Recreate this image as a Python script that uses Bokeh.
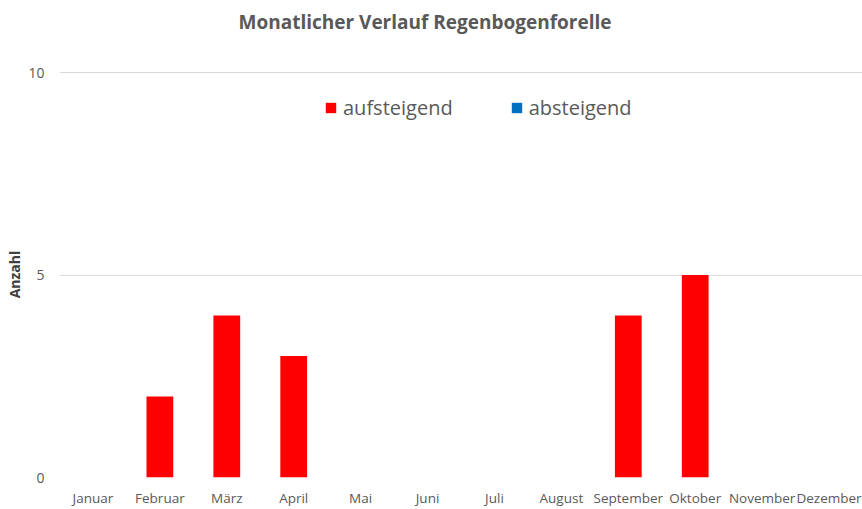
from bokeh.plotting import figure
from bokeh.models import Range1d, FixedTicker, ColumnDataSource, Legend, LegendItem, Title
from bokeh.embed import file_html
from bokeh.resources import INLINE

months = ["Januar", "Februar", "März", "April", "Mai", "Juni", "Juli",
          "August", "September", "Oktober", "November", "Dezember"]
aufsteigend = [0, 2, 4, 3, 0, 0, 0, 0, 4, 5, 0, 0]
absteigend = [0, 0, 0, 0, 0, 0, 0, 0, 0, 0, 0, 0]
y_ticks = [0, 5, 10]

FONT = "Open Sans"
GRAY = "#595959"

xs = [i + 0.5 for i in range(len(months))]
src = ColumnDataSource(dict(x=xs, auf=aufsteigend, ab=absteigend))

p = figure(width=862, height=509, output_backend="svg", toolbar_location=None,
           x_range=Range1d(0, 12.0), y_range=Range1d(0, 10.03),
           min_border_left=59, min_border_right=0, min_border_top=71, min_border_bottom=31)

p.title.text = "Monatlicher Verlauf Regenbogenforelle"
p.title.align = "left"
p.title.offset = 179
p.title.text_font = FONT
p.title.text_font_size = "19px"
p.title.text_font_style = "bold"
p.title.text_color = GRAY

# empty spacer between the title and the plot area
spacer = Title(text=" ", text_font=FONT, text_font_size="15px")
p.add_layout(spacer, "above")

r1 = p.vbar(x="x", top="auf", width=0.4, source=src, fill_color="#FF0000", line_color=None)
r2 = p.vbar(x="x", top="ab", width=0.4, source=src, fill_color="#0070C0", line_color=None)

legend = Legend(items=[LegendItem(label="aufsteigend", renderers=[r1]),
                       LegendItem(label="absteigend", renderers=[r2])],
                orientation="horizontal", location=(265, 356))
legend.label_text_font = FONT
legend.label_text_font_size = "20px"
legend.label_text_color = GRAY
legend.glyph_width = 13
legend.glyph_height = 13
legend.spacing = 57
legend.label_standoff = 6
legend.border_line_color = None
legend.background_fill_alpha = 0
p.add_layout(legend, "center")

p.xaxis.ticker = FixedTicker(ticks=xs)
p.xaxis.major_label_overrides = {x: m for x, m in zip(xs, months)}
p.xaxis.axis_line_color = None
p.xaxis.major_tick_line_color = None
p.xaxis.minor_tick_line_color = None
p.xaxis.major_label_text_font = FONT
p.xaxis.major_label_text_font_size = "13.5px"
p.xaxis.major_label_text_color = GRAY
p.xaxis.major_label_standoff = 5

p.yaxis.ticker = FixedTicker(ticks=y_ticks)
p.yaxis.axis_line_color = None
p.yaxis.major_tick_line_color = None
p.yaxis.minor_tick_line_color = None
p.yaxis.major_label_text_font = FONT
p.yaxis.major_label_text_font_size = "14px"
p.yaxis.major_label_text_color = GRAY
p.yaxis.major_label_standoff = 9
p.yaxis.axis_label = "Anzahl"
p.yaxis.axis_label_standoff = 1
p.yaxis.axis_label_text_font = FONT
p.yaxis.axis_label_text_font_size = "14px"
p.yaxis.axis_label_text_font_style = "bold"
p.yaxis.axis_label_text_color = "#404040"

p.xgrid.grid_line_color = None
p.ygrid.grid_line_color = "#D9D9D9"
p.outline_line_color = None

open("out.html", "w").write(file_html(p, INLINE))
